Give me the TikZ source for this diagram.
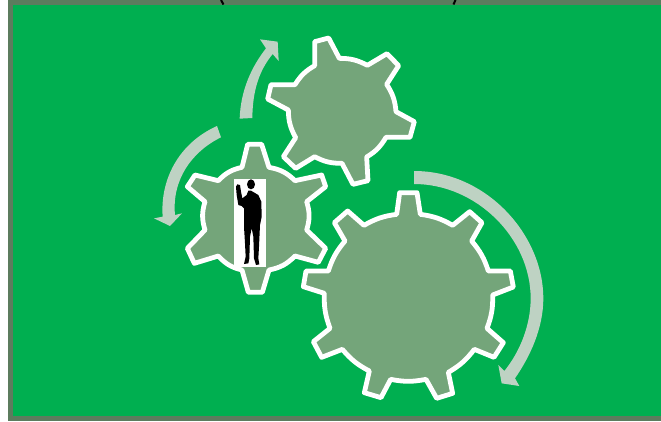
\documentclass[tikz,border=0pt]{standalone}
\definecolor{fieldgreen}{HTML}{00AF50}
\definecolor{framegreen}{HTML}{5C7C5E}
\definecolor{gearfill}{HTML}{74A57A}
\definecolor{arrowpale}{HTML}{BED2C3}
\tikzset{
  gear/.style={draw=white,fill=gearfill,line width=4.8pt,line join=round},
  turn/.style={fill=arrowpale,draw=none},
  zoomA/.style={shift={(300,165)},scale=1/3},
  zoomB/.style={shift={(150,30)},scale=1/3},
  zoomC/.style={shift={(180,130)},scale=1/3},
  rim/.style={bend left=#1}
}
\begin{document}
\begin{tikzpicture}[x=1pt,y=-1pt]
\useasboundingbox (0,0) rectangle (661,421);
\fill[white] (0,0) rectangle (661,421);
\fill[framegreen] (8,0) rectangle (661,421);
\fill[fieldgreen] (13,5) rectangle (661,416);
% parentheses cut by the top edge
\draw[black,line width=2pt] (221,0) -- (223.5,4.5);
\draw[black,line width=2pt] (455.5,0) -- (453.5,4.5);
% large gear
\begin{scope}[zoomA]
\draw[gear] (290,148) -- (299,83) -- (351,83) -- (361,148) to[rim=11] (458,181)
 -- (509,140) -- (546,173) -- (515,228) to[rim=11] (565,318)
 -- (631,318) -- (640,366) -- (578,390) to[rim=11] (561,490)
 -- (610,533) -- (582,577) -- (523,553) to[rim=11] (445,622)
 -- (458,685) -- (410,700) -- (378,643) to[rim=11] (272,643)
 -- (243,698) -- (193,683) -- (208,618) to[rim=11] (127,553)
 -- (65,577) -- (40,530) -- (90,490) to[rim=11] (73,385)
 -- (10,365) -- (18,318) -- (85,318) to[rim=11] (135,228)
 -- (103,173) -- (143,138) -- (192,181) to[rim=11] (290,148) -- cycle;
\fill[turn] (342,18) .. controls (560,18) and (730,210) .. (730,400)
 .. controls (730,490) and (690,575) .. (645,640) -- (658,663) -- (605,655) -- (595,600) -- (613,618)
 .. controls (660,560) and (692,480) .. (692,400)
 .. controls (692,220) and (530,57) .. (342,57) -- cycle;
\end{scope}
% medium gear and two arrows
\begin{scope}[zoomB]
\draw[gear] (494,107) -- (494,35) -- (536,24) -- (568,85) to[rim=14] (652,106)
 -- (711,71) -- (746,107) -- (710,163) to[rim=14] (738,245)
 -- (793,275) -- (780,322) -- (708,322) to[rim=14] (650,381)
 -- (654,452) -- (609,463) -- (576,400) to[rim=14] (494,380)
 -- (437,415) -- (400,380) -- (437,323) to[rim=14] (415,240)
 -- (353,207) -- (363,164) -- (435,164) to[rim=14] (494,107) -- cycle;
\fill[turn] (269,266) .. controls (272,180) and (305,110) .. (348,55) -- (330,28) -- (383,35) -- (386,93) -- (368,72)
 .. controls (325,125) and (308,185) .. (307,264) -- cycle;
\fill[turn] (201,288) .. controls (85,340) and (30,450) .. (38,560) -- (12,565) -- (60,588) -- (96,550) -- (75,555)
 .. controls (65,450) and (125,365) .. (213,322) -- cycle;
\end{scope}
% small gear and person
\begin{scope}[zoomC]
\draw[gear] (186,112) -- (203,43) -- (245,43) -- (267,112) to[rim=17] (345,152)
 -- (425,135) -- (437,170) -- (380,215) to[rim=17] (380,300)
 -- (437,355) -- (415,397) -- (345,378) to[rim=17] (267,420)
 -- (247,487) -- (205,487) -- (186,420) to[rim=17] (115,378)
 -- (43,400) -- (22,355) -- (75,300) to[rim=17] (75,215)
 -- (22,170) -- (45,135) -- (115,152) to[rim=17] (186,112) -- cycle;
\fill[white] (163,147) rectangle (258,410);
\fill[black] (213,163) ellipse [x radius=12,y radius=15];
\fill[black,line join=round] (213,182) -- (235,195) -- (244,215) -- (245,260) -- (240,285) -- (237,350) -- (235,385) -- (238,403) -- (228,405) -- (222,385) -- (220,320) -- (215,295) -- (210,320) -- (208,385) -- (205,400) -- (192,402) -- (197,380) -- (195,340) -- (192,290) -- (192,235) -- (185,228) -- (175,225) -- (170,195) -- (168,170) -- (172,163) -- (180,165) -- (183,185) -- (187,205) -- (200,195) -- (205,182) -- cycle;
\end{scope}
\end{tikzpicture}
\end{document}
